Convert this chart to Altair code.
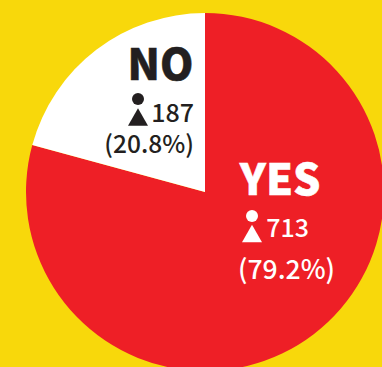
import altair as alt
import pandas as pd

answers = ["YES", "NO"]
counts = [713, 187]
shares = ["(79.2%)", "(20.8%)"]
slice_colors = ["#EE1F26", "#FFFFFF"]
text_colors = ["#FFFFFF", "#231F20"]

FONT = "Noto Sans CJK SC"
CENTER_X, CENTER_Y, RADIUS = 205, 192, 179

pie_data = pd.DataFrame({"answer": answers, "count": counts, "rank": [0, 1]})

pie = alt.Chart(pie_data).mark_arc(radius=RADIUS, stroke=None).encode(
    theta=alt.Theta("count:Q", stack=True),
    order=alt.Order("rank:Q"),
    color=alt.Color("answer:N", scale=alt.Scale(domain=answers, range=slice_colors), legend=None),
    x=alt.value(CENTER_X),
    y=alt.value(CENTER_Y),
)


def label(text, x, y, color, size, weight=500, outline=0):
    mark_args = dict(
        font=FONT, fontSize=size, fontWeight=weight, color=color, align="right", baseline="alphabetic"
    )
    if outline:
        mark_args.update(stroke=color, strokeWidth=outline)
    return alt.Chart(pd.DataFrame({"t": [text]})).mark_text(**mark_args).encode(
        text="t:N", x=alt.value(x), y=alt.value(y)
    )


def person(x, y_head, y_body, color):
    # pictogram: round head above a triangular body
    head = alt.Chart(pd.DataFrame({"k": [0]})).mark_point(
        shape="circle", filled=True, size=144, color=color, opacity=1
    ).encode(x=alt.value(x), y=alt.value(y_head))
    body = alt.Chart(pd.DataFrame({"k": [0]})).mark_point(
        shape="triangle-up", filled=True, size=400, color=color, opacity=1
    ).encode(x=alt.value(x), y=alt.value(y_body))
    return head + body


chart = alt.layer(
    pie,
    label(answers[1], 193.5, 80, text_colors[1], 42.5, 900, 0.5),
    person(138, 99, 117, text_colors[1]),
    label(str(counts[1]), 194, 122, text_colors[1], 25),
    label(shares[1], 194, 153, text_colors[1], 24.5),
    label(answers[0], 320.5, 195, text_colors[0], 43, 900, 0.5),
    person(252, 216, 233.5, text_colors[0]),
    label(str(counts[0]), 309, 237, text_colors[0], 25),
    label(shares[0], 335, 279, text_colors[0], 26.5),
).properties(
    width=382,
    height=367,
    padding=0,
    autosize=alt.AutoSizeParams(type="none"),
    background="#F8D80B",
).configure_view(stroke=None)

chart.save("out.html", embed_options={"renderer": "svg", "actions": False})
